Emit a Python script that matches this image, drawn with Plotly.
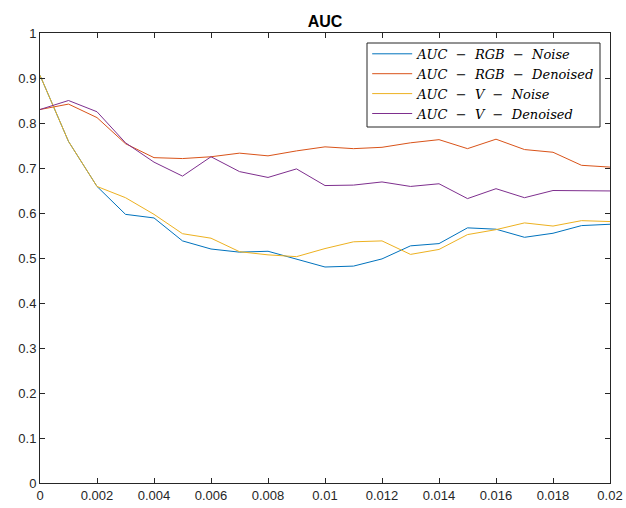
import plotly.graph_objects as go

x = [i * 0.001 for i in range(21)]

rgb_noise = [0.906, 0.759, 0.659, 0.597, 0.589, 0.538, 0.520, 0.513, 0.515, 0.497, 0.480,
             0.482, 0.498, 0.527, 0.532, 0.567, 0.564, 0.546, 0.555, 0.572, 0.575]
rgb_denoised = [0.830, 0.842, 0.812, 0.754, 0.723, 0.721, 0.725, 0.733, 0.727, 0.738, 0.747,
                0.743, 0.746, 0.756, 0.763, 0.743, 0.764, 0.741, 0.735, 0.706, 0.702]
v_noise = [0.906, 0.759, 0.659, 0.634, 0.597, 0.554, 0.544, 0.514, 0.507, 0.503, 0.521,
           0.536, 0.538, 0.508, 0.519, 0.552, 0.563, 0.578, 0.571, 0.583, 0.581]
v_denoised = [0.830, 0.850, 0.825, 0.756, 0.713, 0.682, 0.725, 0.692, 0.679, 0.698, 0.661,
              0.662, 0.669, 0.659, 0.665, 0.632, 0.654, 0.634, 0.650, 0.650, 0.649]

sep = "\u00a0 −\u00a0 "
names = ["<i>AUC</i>" + sep + "<i>RGB</i>" + sep + "<i>Noise</i>",
         "<i>AUC</i>" + sep + "<i>RGB</i>" + sep + "<i>Denoised</i>",
         "<i>AUC</i>" + sep + "<i>V</i>" + sep + "<i>Noise</i>",
         "<i>AUC</i>" + sep + "<i>V</i>" + sep + "<i>Denoised</i>"]
colors = ["#0072BD", "#D95319", "#EDB120", "#7E2F8E"]

x_ticks = [0, 0.002, 0.004, 0.006, 0.008, 0.01, 0.012, 0.014, 0.016, 0.018, 0.02]
x_ticktext = ["0", "0.002", "0.004", "0.006", "0.008", "0.01", "0.012", "0.014", "0.016", "0.018", "0.02"]
y_ticks = [0, 0.1, 0.2, 0.3, 0.4, 0.5, 0.6, 0.7, 0.8, 0.9, 1]
y_ticktext = ["0", "0.1", "0.2", "0.3", "0.4", "0.5", "0.6", "0.7", "0.8", "0.9", "1"]

fig = go.Figure()
for ys, n, c in zip([rgb_noise, rgb_denoised, v_noise, v_denoised], names, colors):
    fig.add_trace(go.Scatter(x=x, y=ys, mode="lines", name=n, line=dict(color=c, width=1)))

axis_common = dict(
    showgrid=False, zeroline=False, showline=True, linecolor="#262626", linewidth=1,
    mirror="ticks", ticks="inside", ticklen=5, tickcolor="#262626", automargin=False,
    tickfont=dict(family="Liberation Sans", size=13, color="#262626"),
)
fig.update_xaxes(range=[0, 0.02], tickvals=x_ticks, ticktext=x_ticktext, **axis_common)
fig.update_yaxes(range=[0, 1], tickvals=y_ticks, ticktext=y_ticktext, **axis_common)

# legend frame
fig.add_shape(type="rect", xref="paper", yref="paper",
              x0=(367 - 40) / 570, x1=(600 - 40) / 570,
              y0=(483 - 127) / 450, y1=(483 - 43) / 450,
              line=dict(color="#262626", width=1), fillcolor="white", layer="above")

fig.update_layout(
    width=626, height=508,
    margin=dict(l=40, r=16, t=33, b=25, autoexpand=False),
    paper_bgcolor="white", plot_bgcolor="white",
    title=dict(text="<b>AUC</b>", x=(40 + 570 / 2) / 626, xanchor="center",
               y=1 - 21 / 508, yanchor="middle",
               font=dict(family="Liberation Sans", size=16, color="black")),
    legend=dict(x=0.574, y=0.987, xanchor="left", yanchor="top",
                bgcolor="rgba(0,0,0,0)", borderwidth=0,
                font=dict(family="DejaVu Serif", size=13, color="black"),
                itemwidth=40, tracegroupgap=0),
    showlegend=True,
)

fig.write_html("out.html", config={"displayModeBar": False},
               post_script="document.body.style.margin='0';document.body.style.padding='0';")
